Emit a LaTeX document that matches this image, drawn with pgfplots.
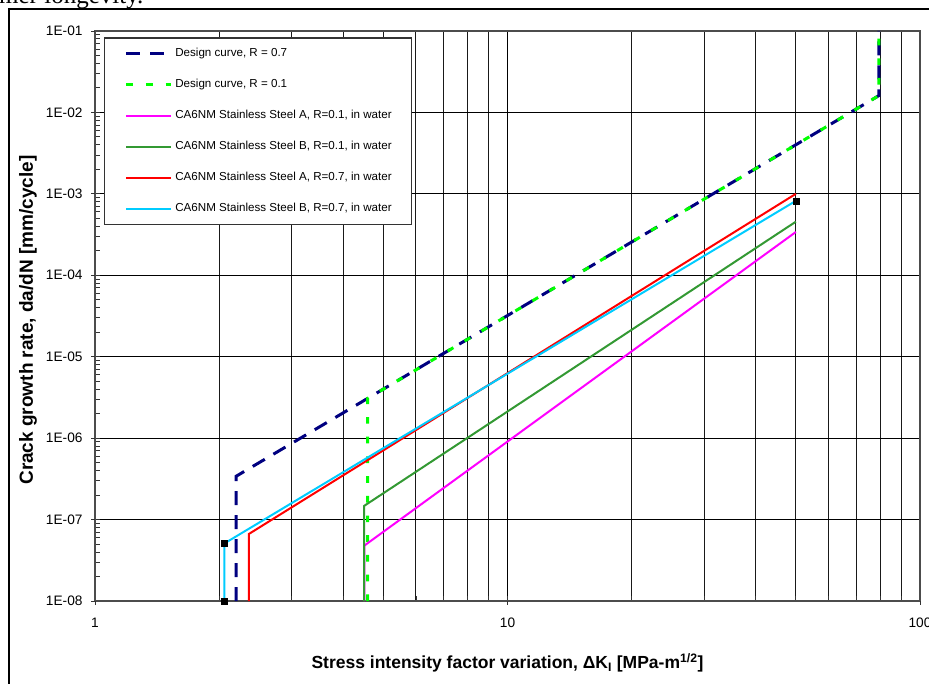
\documentclass[border=0pt]{standalone}
\usepackage{fontspec}
\setmainfont{Liberation Sans}
\newfontfamily\seriffont{Liberation Serif}
\usepackage{pgfplots}
\pgfplotsset{compat=1.18}
\definecolor{dnavy}{RGB}{0,0,128}
\definecolor{dlime}{RGB}{0,255,0}
\definecolor{smag}{RGB}{255,0,255}
\definecolor{sgreen}{RGB}{51,153,51}
\definecolor{sred}{RGB}{255,0,0}
\definecolor{scyan}{RGB}{0,204,255}
\begin{document}
\begin{tikzpicture}[x=1bp,y=1bp]
\path[use as bounding box] (0,0) rectangle (929,684);
\draw[line width=1.5bp] (9,-5) -- (9,675) -- (935,675);
\node[anchor=base west, font=\seriffont\fontsize{25bp}{28bp}\selectfont, inner sep=0] at (-1,680) {mer longevity.};
\begin{axis}[
  at={(95bp,83bp)}, anchor=south west,
  scale only axis, width=825bp, height=570bp,
  xmode=log, ymode=log,
  xmin=1, xmax=100, ymin=1e-8, ymax=1e-1,
  xtick={1,10,100}, xticklabels={1,10,100},
  ytick={1e-8,1e-7,1e-6,1e-5,1e-4,1e-3,1e-2,1e-1},
  yticklabels={1E-08,1E-07,1E-06,1E-05,1E-04,1E-03,1E-02,1E-01},
  xminorgrids, xmajorgrids, ymajorgrids,
  grid style={black, line width=1bp},
  minor grid style={black!90, line width=1bp},
  axis line style={black!70, line width=1.2bp},
  tick align=inside, xtick pos=bottom, ytick pos=left,
  major tick length=0bp, minor tick length=5bp,
  tick style={black!80, line width=0.9bp},
  extra x ticks={1,10,100}, extra x tick labels={},
  extra y ticks={1e-8,1e-7,1e-6,1e-5,1e-4,1e-3,1e-2,1e-1}, extra y tick labels={},
  extra tick style={tick align=outside, major tick length=4bp, grid=none},
  tick label style={font=\fontsize{13.7bp}{16bp}\selectfont},
  xticklabel style={anchor=north, inner sep=0bp, yshift=-17bp},
  yticklabel style={anchor=east, inner sep=0bp, xshift=-12.3bp},
  xlabel={Stress intensity factor variation, ΔK\textsubscript{I} [MPa-m\textsuperscript{1/2}]},
  ylabel={Crack growth rate, da/dN [mm/cycle]},
  xlabel style={at={(axis description cs:0.5,-0.1088)}, anchor=center, inner sep=0bp, font=\bfseries\fontsize{17.5bp}{20bp}\selectfont},
  ylabel style={at={(axis description cs:-0.0812,0.493)}, anchor=center, rotate=0, inner sep=0bp, font=\bfseries\fontsize{19bp}{22bp}\selectfont},
  legend image code/.code={\draw[#1] (0bp,0bp) -- (45bp,0bp);},
  legend cell align=left,
  legend style={at={(axis description cs:0.0109,0.989)}, anchor=north west,
    draw=black!80, line width=1.3bp, fill=white,
    font=\fontsize{11.6bp}{13.9bp}\selectfont,
    inner xsep=20bp, inner ysep=10.5bp, row sep=20.3bp,
    nodes={inner sep=0bp, text height=8.3bp, text depth=2.4bp},
    /tikz/every odd column/.append style={column sep=2.7bp}},
]
\addplot[dnavy, line width=3bp, dash pattern=on 14bp off 10bp] coordinates {
 (2.2,1e-8) (2.2,3.41e-7) (78,1.52e-2) (79.5,1.61e-2) (79.5,1e-1)};
\addlegendentry{Design curve, R = 0.7}
\addplot[dlime, line width=3bp, dash pattern=on 6.7bp off 13bp] coordinates {
 (4.58,1e-8) (4.58,3.07e-6) (78,1.52e-2) (79.5,1.61e-2) (79.5,1e-1)};
\addlegendentry{Design curve, R = 0.1}
\addplot[smag, line width=2bp] coordinates {
 (4.5,1e-8) (4.5,4.8e-8) (50,3.4e-4)};
\addlegendentry{CA6NM Stainless Steel A, R=0.1, in water}
\addplot[sgreen, line width=2bp] coordinates {
 (4.49,1e-8) (4.49,1.47e-7) (50,4.55e-4)};
\addlegendentry{CA6NM Stainless Steel B, R=0.1, in water}
\addplot[sred, line width=2bp] coordinates {
 (2.36,1e-8) (2.36,6.65e-8) (50,1e-3)};
\addlegendentry{CA6NM Stainless Steel A, R=0.7, in water}
\addplot[scyan, line width=2bp] coordinates {
 (2.06,1e-8) (2.06,5.1e-8) (50,8.2e-4)};
\addlegendentry{CA6NM Stainless Steel B, R=0.7, in water}
\addplot[only marks, mark=square*, mark size=3bp, black, forget plot] coordinates {
 (2.06,1e-8) (2.06,5.1e-8) (50,8.2e-4)};
\end{axis}
\end{tikzpicture}
\end{document}
